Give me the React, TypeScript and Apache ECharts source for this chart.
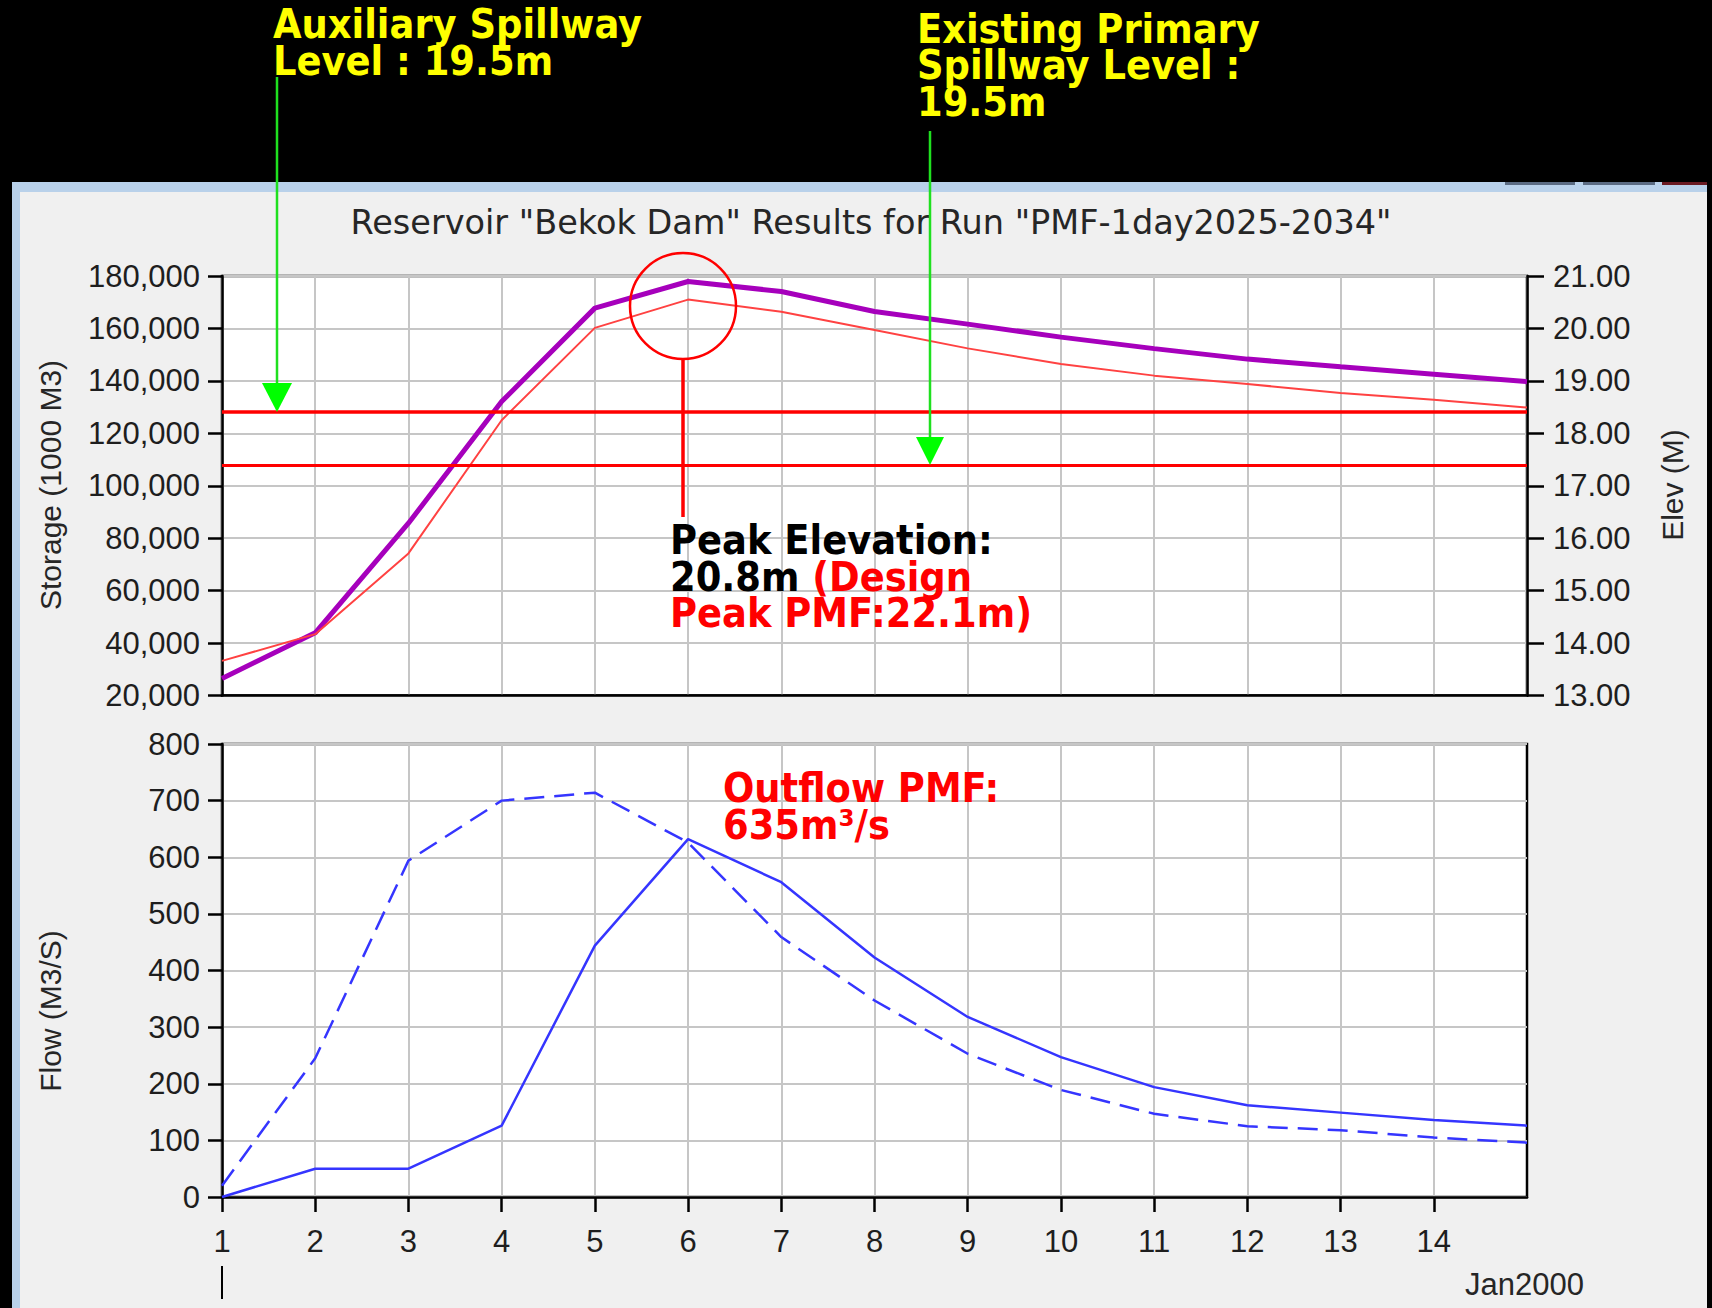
import React, { useEffect, useRef } from "react";
import * as echarts from "echarts";

// ---- data ----
const days = [1, 2, 3, 4, 5, 6, 7, 8, 9, 10, 11, 12, 13, 14, 15];
const dayTicks = [1, 2, 3, 4, 5, 6, 7, 8, 9, 10, 11, 12, 13, 14];
const storage = [26500, 43900, 85700, 132100, 167750, 177900, 174100, 166450, 161640, 156680, 152300, 148300, 145400, 142560, 139700];
const elevation = [13.66, 14.17, 15.71, 18.25, 20.01, 20.55, 20.32, 19.97, 19.62, 19.32, 19.1, 18.94, 18.77, 18.64, 18.49];
const inflow = [20, 245, 594, 700, 714, 626, 459, 347, 253, 189, 147, 125, 118, 105, 96];
const outflow = [0, 50, 50, 126, 444, 632, 556, 423, 318, 247, 194, 162, 149, 136, 126];
const spillwayLevels = [18.42, 17.4];

const TITLE = 'Reservoir "Bekok Dam" Results for Run "PMF-1day2025-2034"';

const tickFont = {
  fontFamily: '"Liberation Sans", Arial, sans-serif',
  fontSize: 31,
  color: "#1e1e1e",
};
const gridLine = { show: true, lineStyle: { color: "#c6c6c6", width: 2 } };
const blackLine = { show: true, onZero: false, lineStyle: { color: "#000", width: 2.5 } };
const tickStyle = { color: "#000", width: 2.5 };

const annFont = '"DejaVu Sans Condensed", "DejaVu Sans", sans-serif';
const LH = 36.5;

function tok(fill: string) {
  return { fill, fontFamily: annFont, fontWeight: "bold", fontSize: 41, lineHeight: LH };
}

// multi-line rich annotation; y is the centre of the first line
function block(text: string, x: number, yFirst: number) {
  return {
    type: "text",
    z: 100,
    x,
    y: yFirst - LH / 2,
    style: {
      text,
      fontFamily: annFont,
      fontWeight: "bold",
      fontSize: 41,
      lineHeight: LH,
      align: "left",
      verticalAlign: "top",
      rich: { y: tok("#ffff00"), k: tok("#000000"), r: tok("#ff0000") },
    },
  };
}

function plain(text: string, x: number, y: number, size: number, family: string, rotation = 0, align = "center") {
  return {
    type: "text",
    z: 100,
    x,
    y,
    rotation,
    style: {
      text,
      fill: "#262626",
      fontFamily: family,
      fontSize: size,
      align,
      verticalAlign: "middle",
    },
  };
}

function buildOption() {
  return {
    animation: false,
    backgroundColor: "transparent",
    grid: [
      { left: 222, top: 276, width: 1305, height: 419.5, show: true, backgroundColor: "#fff", borderColor: "#000", borderWidth: 2.5 },
      { left: 222, top: 744, width: 1305, height: 453, show: true, backgroundColor: "#fff", borderColor: "#000", borderWidth: 2.5 },
    ],
    xAxis: [
      {
        type: "value", gridIndex: 0, min: 1, max: 15, interval: 1,
        axisLine: blackLine, axisTick: { show: false }, axisLabel: { show: false }, splitLine: gridLine,
      },
      {
        type: "value", gridIndex: 1, min: 1, max: 15, interval: 1,
        axisLine: blackLine,
        axisTick: { show: true, length: 15, lineStyle: tickStyle, customValues: dayTicks },
        axisLabel: {
          ...tickFont, margin: 29, customValues: dayTicks,
          formatter: (v: number) => (v >= 15 ? "" : String(v)),
        },
        splitLine: gridLine,
      },
    ],
    yAxis: [
      {
        type: "value", gridIndex: 0, position: "left", min: 20000, max: 180000, interval: 20000,
        axisLine: blackLine, axisTick: { show: true, length: 14, lineStyle: tickStyle },
        axisLabel: { ...tickFont, margin: 22, formatter: (v: number) => v.toLocaleString("en-US") },
        splitLine: gridLine,
      },
      {
        type: "value", gridIndex: 0, position: "right", min: 13, max: 21, interval: 1,
        axisLine: blackLine, axisTick: { show: true, length: 17, lineStyle: tickStyle },
        axisLabel: { ...tickFont, margin: 26, formatter: (v: number) => v.toFixed(2) },
        splitLine: { show: false },
      },
      {
        type: "value", gridIndex: 1, position: "left", min: 0, max: 800, interval: 100,
        axisLine: blackLine, axisTick: { show: true, length: 14, lineStyle: tickStyle },
        axisLabel: { ...tickFont, margin: 22 },
        splitLine: gridLine,
      },
    ],
    series: [
      {
        name: "Storage", type: "line", xAxisIndex: 0, yAxisIndex: 0,
        data: days.map((d, i) => [d, storage[i]]),
        symbol: "none", lineStyle: { color: "#a600bc", width: 5 }, z: 3,
      },
      {
        name: "Elevation", type: "line", xAxisIndex: 0, yAxisIndex: 1,
        data: days.map((d, i) => [d, elevation[i]]),
        symbol: "none", lineStyle: { color: "#ff4242", width: 2 }, z: 4,
        markLine: {
          silent: true, symbol: ["none", "none"], label: { show: false },
          data: [
            { yAxis: spillwayLevels[0], lineStyle: { color: "#ff0000", width: 3.5, type: "solid" } },
            { yAxis: spillwayLevels[1], lineStyle: { color: "#ff0000", width: 3, type: "solid" } },
          ],
        },
      },
      {
        name: "Inflow", type: "line", xAxisIndex: 1, yAxisIndex: 2,
        data: days.map((d, i) => [d, inflow[i]]),
        symbol: "none", lineStyle: { color: "#3535ff", width: 2.5, type: [20, 10] },
      },
      {
        name: "Outflow", type: "line", xAxisIndex: 1, yAxisIndex: 2,
        data: days.map((d, i) => [d, outflow[i]]),
        symbol: "none", lineStyle: { color: "#3535ff", width: 2.5 },
      },
    ],
    graphic: [
      plain(TITLE, 871, 222.5, 33.5, '"DejaVu Sans", sans-serif'),
      plain("Storage (1000 M3)", 50, 485, 30, '"Liberation Sans", Arial, sans-serif', Math.PI / 2),
      plain("Flow (M3/S)", 50, 1011, 30, '"Liberation Sans", Arial, sans-serif', Math.PI / 2),
      plain("Elev (M)", 1672, 485, 30, '"Liberation Sans", Arial, sans-serif', Math.PI / 2),
      plain("Jan2000", 1465, 1284, 31, '"Liberation Sans", Arial, sans-serif', 0, "left"),
      { type: "line", z: 100, shape: { x1: 222, y1: 1266, x2: 222, y2: 1299 }, style: { stroke: "#000", lineWidth: 2 } },
      // green arrows
      { type: "line", z: 100, shape: { x1: 277, y1: 77, x2: 277, y2: 386 }, style: { stroke: "#1fe01f", lineWidth: 2.5 } },
      { type: "polygon", z: 100, shape: { points: [[262, 383], [292, 383], [277, 412]] }, style: { fill: "#00ff00" } },
      { type: "line", z: 100, shape: { x1: 930, y1: 131, x2: 930, y2: 440 }, style: { stroke: "#1fe01f", lineWidth: 2.5 } },
      { type: "polygon", z: 100, shape: { points: [[916, 437], [944, 437], [930, 465]] }, style: { fill: "#00ff00" } },
      // red circle callout
      { type: "ellipse", z: 100, shape: { cx: 683, cy: 306, rx: 53, ry: 53 }, style: { stroke: "#ff0000", lineWidth: 2.5, fill: "none" } },
      { type: "line", z: 100, shape: { x1: 683, y1: 359, x2: 683, y2: 517 }, style: { stroke: "#ff0000", lineWidth: 3.5 } },
      // annotations
      block("{y|Auxiliary Spillway}\n{y|Level : 19.5m}", 273, 24),
      block("{y|Existing Primary}\n{y|Spillway Level :}\n{y|19.5m}", 917, 28.5),
      block("{k|Peak Elevation:}\n{k|20.8m }{r|(Design}\n{r|Peak PMF:22.1m)}", 670, 540),
      block("{r|Outflow PMF:}\n{r|635m³/s}", 723, 788),
    ],
  };
}

export default function App() {
  const ref = useRef<HTMLDivElement>(null);
  useEffect(() => {
    if (!ref.current) return;
    const chart = echarts.init(ref.current, null, { renderer: "svg" });
    chart.setOption(buildOption() as any);
    return () => chart.dispose();
  }, []);
  const abs = (l: number, t: number, w: number, h: number, bg: string) => (
    <div style={{ position: "absolute", left: l, top: t, width: w, height: h, background: bg }} />
  );
  return (
    <div style={{ position: "fixed", left: 0, top: 0, width: 1712, height: 1308, background: "#000", overflow: "hidden" }}>
      {abs(12, 182, 1695, 1126, "#b9d1ea")}
      {abs(20, 192, 1687, 1116, "#f0f0f0")}
      {abs(1505, 182, 70, 3, "#5b6b82")}
      {abs(1583, 182, 72, 3, "#5b6b82")}
      {abs(1662, 182, 45, 3, "#6a1a22")}
      <div ref={ref} style={{ position: "absolute", left: 0, top: 0, width: 1712, height: 1308 }} />
    </div>
  );
}
